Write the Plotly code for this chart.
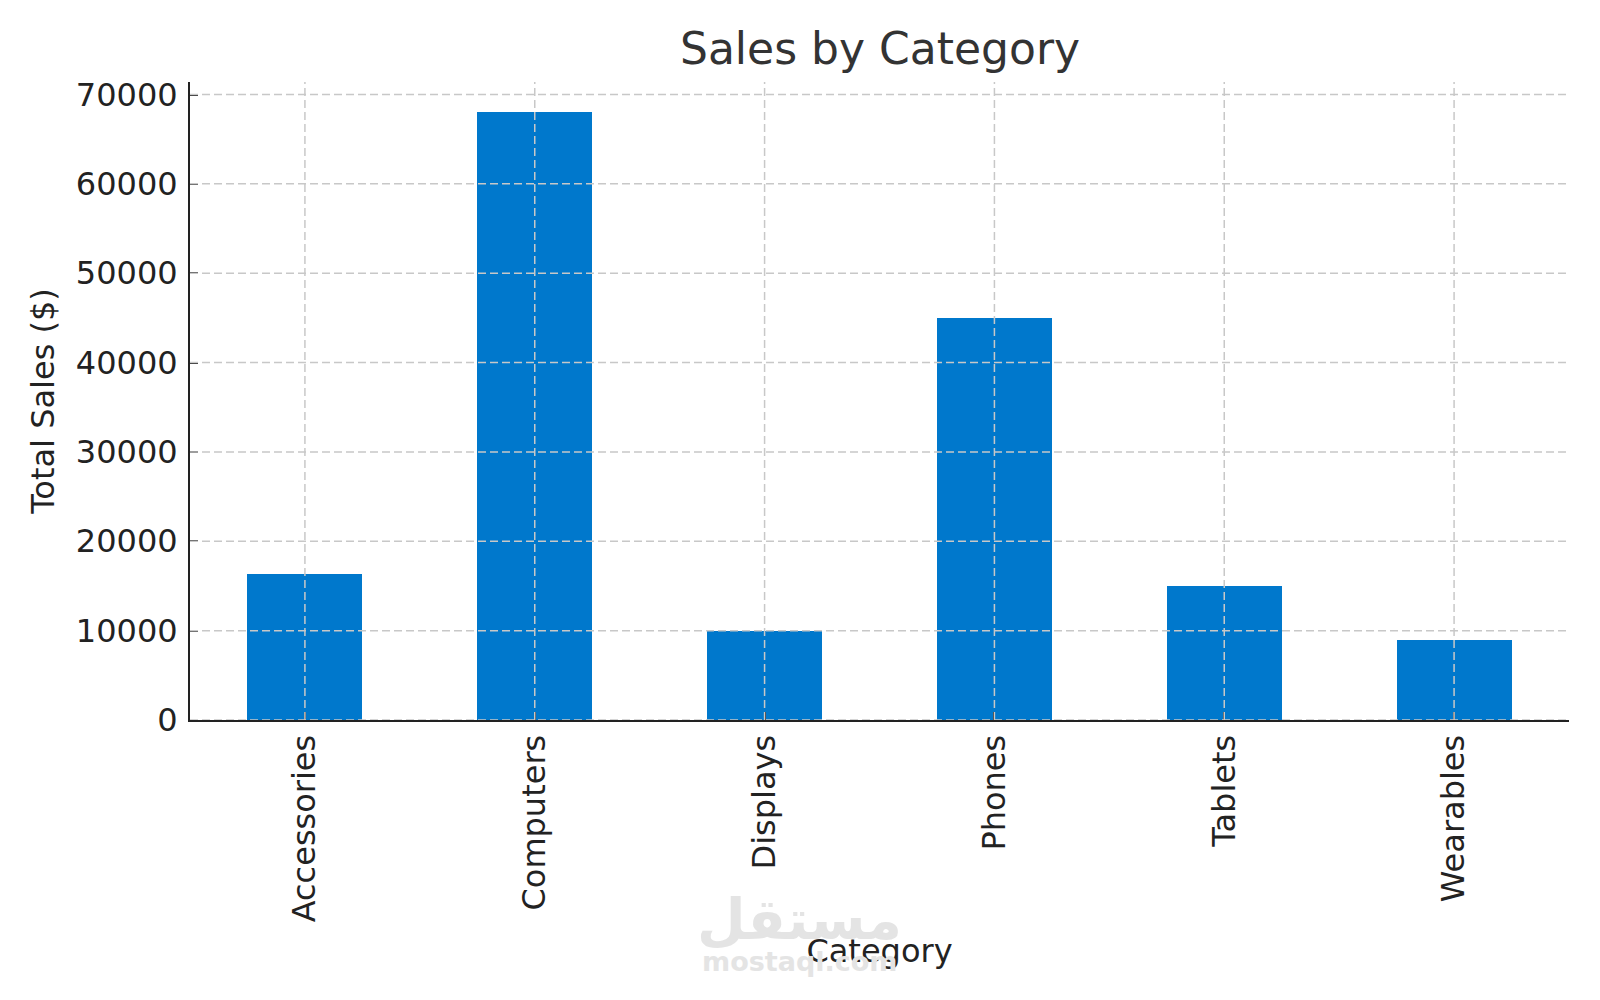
import plotly.graph_objects as go

categories = ["Accessories", "Computers", "Displays", "Phones", "Tablets", "Wearables"]
sales = [16300, 68000, 10000, 45000, 15000, 9000]
y_ticks = [0, 10000, 20000, 30000, 40000, 50000, 60000, 70000]

FONT = "DejaVu Sans"
BAR_COLOR = "#0078CC"
GRID = "#c8c8c8"

fig = go.Figure()
fig.add_trace(go.Bar(x=list(range(len(categories))), y=sales, width=0.5,
                     marker=dict(color=BAR_COLOR, line=dict(width=0)),
                     showlegend=False))

shapes = []
for i in range(len(categories)):
    shapes.append(dict(type="line", xref="x", yref="paper", x0=i, x1=i, y0=0, y1=1,
                       line=dict(color=GRID, width=1.5, dash="8px,4px"), layer="above"))
for t in y_ticks:
    shapes.append(dict(type="line", xref="paper", yref="y", x0=0, x1=1, y0=t, y1=t,
                       line=dict(color=GRID, width=1.5, dash="8px,4px"), layer="above"))

fig.update_layout(
    width=1600, height=1000,
    margin=dict(l=190, r=31, t=82, b=280),
    paper_bgcolor="white", plot_bgcolor="white",
    font=dict(family=FONT, size=32, color="#222222"),
    title=dict(text="Sales by Category", x=0.55, xanchor="center", y=0.951, yanchor="middle",
               font=dict(family=FONT, size=44, color="#333333")),
    shapes=shapes,
    bargap=0,
)

# watermark (behind axis title)
fig.add_annotation(text="<b>مستقل</b>", xref="paper", yref="paper", x=0.442, y=-0.312,
                   xanchor="center", yanchor="middle",
                   showarrow=False, font=dict(family="DejaVu Sans", size=56, color="#e4e4e4"))
fig.add_annotation(text="<b>mostaql.com</b>", xref="paper", yref="paper", x=0.442, y=-0.378,
                   xanchor="center", yanchor="middle",
                   showarrow=False, font=dict(family="DejaVu Sans", size=27, color="#e4e4e4"))

fig.update_xaxes(range=[-0.5, 5.5], tickmode="array", tickvals=list(range(len(categories))),
                 ticktext=categories, tickangle=-90, showgrid=False, zeroline=False,
                 showline=True, linecolor="#222222", linewidth=2, mirror=False,
                 ticks="inside", ticklen=8, tickwidth=2, tickcolor="#222222",
                 title=dict(text="Category", font=dict(family=FONT, size=32, color="#222222"), standoff=18),
                 layer="above traces")
fig.update_yaxes(range=[0, 71400], tickmode="array", tickvals=y_ticks,
                 ticktext=[str(t) for t in y_ticks], showgrid=False, zeroline=False,
                 showline=True, linecolor="#222222", linewidth=2,
                 ticks="inside", ticklen=8, tickwidth=2, tickcolor="#222222",
                 ticklabelstandoff=4,
                 title=dict(text="Total Sales ($)", font=dict(family=FONT, size=32, color="#222222"), standoff=12),
                 layer="above traces")

fig.write_html("out.html")
